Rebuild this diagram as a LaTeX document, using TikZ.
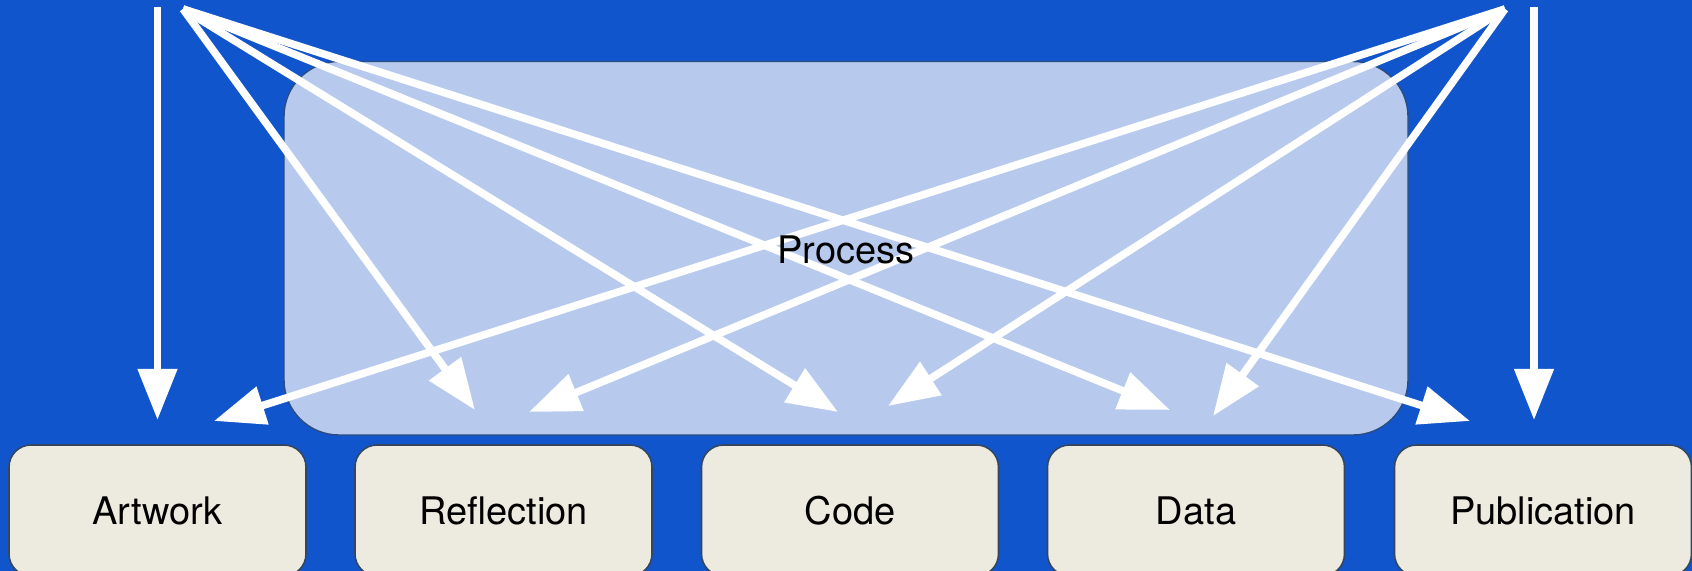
\documentclass[tikz,border=0pt]{standalone}
\usepackage{fontspec}
\setmainfont{TeX Gyre Heros}
\usetikzlibrary{arrows.meta}
\definecolor{bgblue}{HTML}{1155CC}
\definecolor{procfill}{HTML}{B7CAEE}
\definecolor{procline}{HTML}{2B4C80}
\definecolor{itemfill}{HTML}{EDEBE0}
\definecolor{itemline}{HTML}{34465F}
\begin{document}
\begin{tikzpicture}[x=0.5pt,y=-0.5pt,
  labelfont/.style={font=\fontsize{19}{23}\selectfont, text height=13.6pt, text depth=0pt},
  itembox/.style={draw=itemline, line width=0.8pt, fill=itemfill, rounded corners=11pt,
    minimum width=148.5pt, minimum height=65.5pt, inner sep=0pt, labelfont},
  procbox/.style={draw=procline, line width=0.7pt, fill=procfill, rounded corners=27.5pt,
    minimum width=562pt, minimum height=186.75pt, inner sep=0pt},
  flow/.style={draw=white, line width=3.8pt, -{Triangle[length=25.5pt,width=19pt,fill=white]}}]

% canvas
\useasboundingbox (0,0) rectangle (1692,571);
\fill[bgblue] (0,0) rectangle (1692,571);

% central process panel (its label is set after the arrows)
\node[procbox] (proc) at (846,248.25) {};

% output boxes along the bottom
\node[itembox] (art) at (157.5,510.5) {Artwork};
\node[itembox] (refl) at (503.5,510.5) {Reflection};
\node[itembox] (code) at (850,510.5) {Code};
\node[itembox] (data) at (1196,510.5) {Data};
\node[itembox] (pub) at (1543,510.5) {Publication};

% arrow origins at the top edge
\coordinate (srcL) at (183,9);
\coordinate (srcR) at (1505,9);
\coordinate (topL) at (157.5,7);
\coordinate (topR) at (1534,7);

% arrow tips just above the boxes
\coordinate (tipArtV) at (157.5,420);
\coordinate (tipPubV) at (1534,420);
\coordinate (tipReflL) at (475,410);
\coordinate (tipCodeL) at (838,412);
\coordinate (tipDataL) at (1170,410);
\coordinate (tipPubL) at (1470,421);
\coordinate (tipArtR) at (214,421);
\coordinate (tipReflR) at (529,412);
\coordinate (tipCodeR) at (888,406);
\coordinate (tipDataR) at (1213,416);

% straight drops
\draw[flow] (topL) -- (tipArtV);
\draw[flow] (topR) -- (tipPubV);

% fan from the left origin
\draw[flow] (srcL) -- (tipReflL);
\draw[flow] (srcL) -- (tipCodeL);
\draw[flow] (srcL) -- (tipDataL);
\draw[flow] (srcL) -- (tipPubL);

% fan from the right origin
\draw[flow] (srcR) -- (tipArtR);
\draw[flow] (srcR) -- (tipReflR);
\draw[flow] (srcR) -- (tipCodeR);
\draw[flow] (srcR) -- (tipDataR);

% panel label on top of the arrows
\node[labelfont, inner sep=0pt] (procLabel) at (846,249.5) {Process};
\end{tikzpicture}
\end{document}
